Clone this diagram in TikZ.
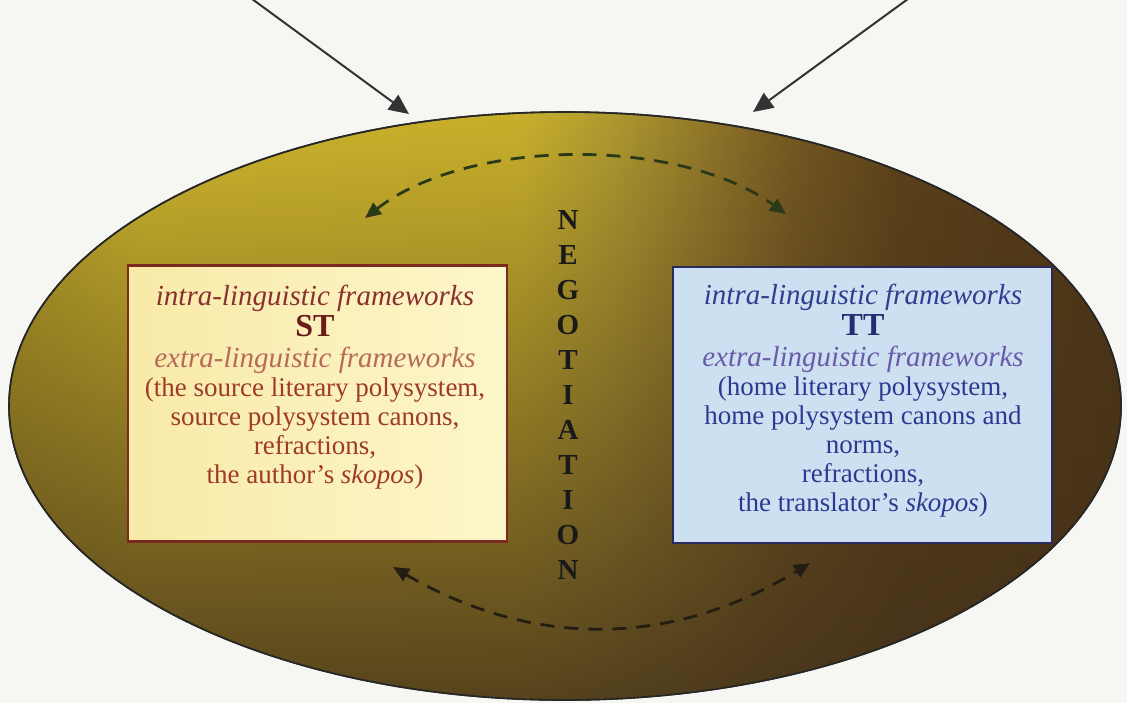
\documentclass[tikz,border=0pt]{standalone}
\usepackage{fontspec}
\setmainfont{Liberation Serif}
\usetikzlibrary{shapes.geometric,arrows.meta,fadings}

\definecolor{paper}{HTML}{F6F6F3}
\definecolor{ovalleft}{HTML}{B8A226}
\definecolor{ovalgold}{HTML}{CDB52C}
\definecolor{ovalgoldB}{HTML}{C8B02C}
\definecolor{ovalmid}{HTML}{B09A30}
\definecolor{ovalolive}{HTML}{947A2A}
\definecolor{ovalbrown}{HTML}{765A22}
\definecolor{ovaldeep}{HTML}{5C421A}
\definecolor{ovaldark}{HTML}{4E3616}
\definecolor{ovalshadow}{HTML}{42301A}
\definecolor{stline}{HTML}{7A2A1E}
\definecolor{stfillL}{HTML}{F8EAA8}
\definecolor{stfillR}{HTML}{FDF6CA}
\definecolor{stintra}{HTML}{8B3030}
\definecolor{sthead}{HTML}{6B1A1A}
\definecolor{stextra}{HTML}{B86A5A}
\definecolor{stmain}{HTML}{9E3A2A}
\definecolor{ttline}{HTML}{2A2A5E}
\definecolor{ttfill}{HTML}{CDE0F2}
\definecolor{ttintra}{HTML}{2F3F8F}
\definecolor{tthead}{HTML}{1F2F6F}
\definecolor{ttextra}{HTML}{6A5AA8}
\definecolor{ttmain}{HTML}{2A3A90}
\definecolor{arcgreen}{HTML}{2A3A18}
\definecolor{arcdark}{HTML}{241E12}

\pgfdeclarehorizontalshading{ovalshade}{100bp}{color(0bp)=(ovalleft); color(25bp)=(ovalleft); color(31bp)=(ovalgold); color(48bp)=(ovalgoldB); color(52bp)=(ovalmid); color(56bp)=(ovalolive); color(60bp)=(ovalbrown); color(65bp)=(ovaldeep); color(75bp)=(ovaldark); color(100bp)=(ovaldark)}
\tikzfading[name=fade lower, top color=transparent!100, middle color=transparent!95, bottom color=transparent!15]

\begin{document}
\begin{tikzpicture}[x=0.5pt,y=-0.5pt,>={Triangle[length=10pt,width=9pt]},
  every node/.style={font=\fontsize{13.5}{14.5}\selectfont},
  fwbox/.style={draw,line width=1.1pt,minimum width=189.5pt,minimum height=138pt,inner sep=0pt},
  fwtext/.style={align=center,inner sep=0pt,anchor=north},
  negletter/.style={font=\fontsize{14.5}{14.5}\selectfont\bfseries,text=black!90,inner sep=0pt},
  negarc/.style={<->,line width=1.4pt,dash pattern=on 7pt off 5pt,>={Triangle[length=8pt,width=7pt]}}]
  \useasboundingbox[fill=paper] (0,0) rectangle (1127,703);

  % the oval
  \node[ellipse,shading=ovalshade,draw=black!85,line width=0.8pt,
    minimum width=556pt,minimum height=294pt,inner sep=0pt] (oval) at (565,406) {};
  \fill[ovalshadow,path fading=fade lower] (oval.center) ellipse [x radius=277.6pt,y radius=146.6pt];
  \draw[black!85,line width=0.8pt] (oval.center) ellipse [x radius=278pt,y radius=147pt];

  % arrows from outside
  \coordinate (fromL) at (248,-4);
  \coordinate (toL) at (409,114);
  \coordinate (fromR) at (912,-4);
  \coordinate (toR) at (753,112);
  \draw[->,line width=1pt,black!80] (fromL) -- (toL);
  \draw[->,line width=1pt,black!80] (fromR) -- (toR);

  % source text box
  \node[fwbox,draw=stline,left color=stfillL,right color=stfillR] (stbox) at (317.5,403.5) {};
  \node[fwtext,text=stmain] (sttext) at (315,285) {%
    {\fontsize{14.5}{14.5}\selectfont\itshape\color{stintra}intra-linguistic frameworks}\\[1pt]
    {\fontsize{16}{16}\selectfont\bfseries\color{sthead}ST}\\[1pt]
    {\fontsize{14.5}{14.5}\selectfont\itshape\color{stextra}extra-linguistic frameworks}\\
    (the source literary polysystem,\\
    source polysystem canons,\\
    refractions,\\
    the author's \textit{skopos})};

  % target text box
  \node[fwbox,draw=ttline,fill=ttfill] (ttbox) at (862.5,405) {};
  \node[fwtext,text=ttmain] (tttext) at (863,284) {%
    {\fontsize{14.5}{14.5}\selectfont\itshape\color{ttintra}intra-linguistic frameworks}\\[1pt]
    {\fontsize{16}{16}\selectfont\bfseries\color{tthead}TT}\\[1pt]
    {\fontsize{14.5}{14.5}\selectfont\itshape\color{ttextra}extra-linguistic frameworks}\\
    (home literary polysystem,\\
    home polysystem canons and\\
    norms,\\
    refractions,\\
    the translator's \textit{skopos})};

  % negotiation
  \foreach \ch [count=\i] in {N,E,G,O,T,I,A,T,I,O,N}
    \node[negletter] (neg\i) at (568,{220+35*(\i-1)}) {\ch};

  \coordinate (upL) at (365,218);
  \coordinate (upR) at (786,214);
  \coordinate (lowL) at (393,567);
  \coordinate (lowR) at (810,563);
  \draw[negarc,arcgreen] (upL) .. controls (470,137) and (680,137) .. (upR);
  \draw[negarc,arcdark] (lowL) .. controls (532,648) and (671,648) .. (lowR);
\end{tikzpicture}
\end{document}
